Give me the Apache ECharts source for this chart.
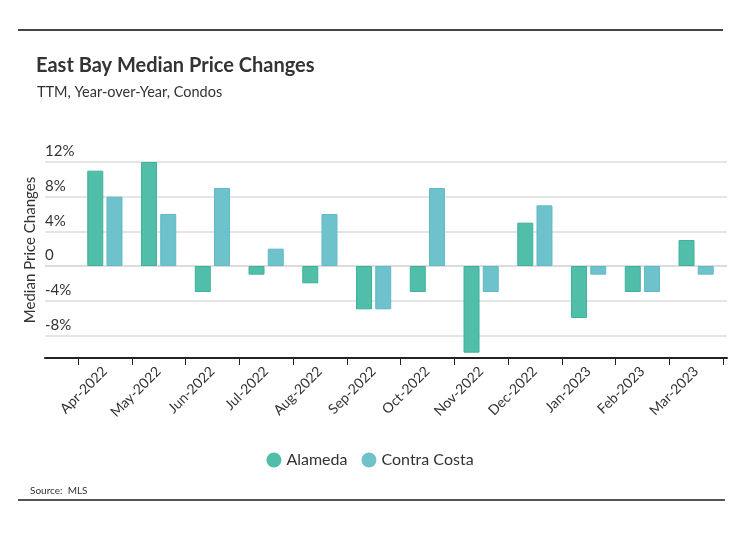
<!DOCTYPE html>
<html>
<head>
<meta charset="utf-8">
<script src="https://cdn.jsdelivr.net/npm/echarts@6/dist/echarts.min.js"></script>
<style>
html,body{margin:0;padding:0;background:#fff;}
#c{width:740px;height:533px;}
</style>
</head>
<body>
<div id="c"></div>
<script>
var categories = ['Apr-2022','May-2022','Jun-2022','Jul-2022','Aug-2022','Sep-2022','Oct-2022','Nov-2022','Dec-2022','Jan-2023','Feb-2023','Mar-2023'];
var alameda = [11, 12, -3, -1, -2, -5, -3, -10, 5, -6, -3, 3];
var contraCosta = [8, 6, 9, 2, 6, -5, 9, -3, 7, -1, -3, -1];
var yTicks = [-12, -8, -4, 0, 4, 8, 12];

var FONT = 'Lato, "Open Sans", sans-serif';
var chart = echarts.init(document.getElementById('c'));
var gridTop = 162, gridBottom = 163;
chart.setOption({
  animation: false,
  textStyle: {fontFamily: FONT},
  title: [
    {text: 'East Bay Median Price Changes', left: 31, top: 51,
     textStyle: {fontFamily: FONT, fontSize: 20, fontWeight: 'bold', color: '#333'}},
    {text: 'TTM, Year-over-Year, Condos', left: 32, top: 80,
     textStyle: {fontFamily: FONT, fontSize: 14.5, fontWeight: 'normal', color: '#333'}},
    {text: 'Source:  MLS', left: 25, top: 481,
     textStyle: {fontFamily: FONT, fontSize: 10, fontWeight: 'normal', color: '#333'}}
  ],
  graphic: [
    {type: 'rect', shape: {x: 18, y: 29, width: 705, height: 2}, style: {fill: '#444'}},
    {type: 'rect', shape: {x: 18, y: 499, width: 707, height: 2}, style: {fill: '#555'}},
    {type: 'text', x: 30, y: 250, rotation: Math.PI / 2,
     style: {text: 'Median Price Changes', fill: '#333', font: '15px ' + FONT, align: 'center', verticalAlign: 'middle'}}
  ],
  legend: {
    data: ['Alameda', 'Contra Costa'],
    left: 'center', top: 447, icon: 'circle', itemWidth: 15, itemHeight: 15, itemGap: 14,
    itemStyle: {borderWidth: 0},
    textStyle: {fontFamily: FONT, fontSize: 16, color: '#333'}
  },
  grid: [
    {left: 45, right: 13, top: gridTop, bottom: gridBottom},
    {left: 78, right: 17, top: gridTop, bottom: gridBottom}
  ],
  xAxis: [
    {gridIndex: 0, type: 'value', min: 0, max: 1, offset: -12,
     axisLine: {show: true, onZero: false, lineStyle: {color: '#222', width: 2}},
     axisTick: {show: false}, axisLabel: {show: false}, splitLine: {show: false}},
    {gridIndex: 1, type: 'category', data: categories, offset: -12,
     axisLine: {show: false, onZero: false},
     axisTick: {show: true, length: 7, lineStyle: {color: '#222'}},
     axisLabel: {rotate: 45, interval: 0, margin: 11, fontFamily: FONT, fontSize: 14, color: '#333'},
     splitLine: {show: false}}
  ],
  yAxis: [
    {gridIndex: 0, type: 'value', min: yTicks[0], max: yTicks[yTicks.length - 1], interval: 4,
     axisLine: {show: false}, axisTick: {show: false},
     axisLabel: {inside: true, margin: 0, verticalAlign: 'bottom', align: 'left', padding: [0, 0, 3, 0],
       fontFamily: FONT, fontSize: 15, color: '#333',
       formatter: function (v) { if (v === yTicks[0]) return ''; return v === 0 ? '0' : v + '%'; }},
     splitLine: {show: true, lineStyle: {color: ['rgba(0,0,0,0)', '#dcdcdc', '#dcdcdc', '#d0d0d0', '#dcdcdc', '#dcdcdc', '#dcdcdc'], width: 1.5}}},
    {gridIndex: 1, type: 'value', min: yTicks[0], max: yTicks[yTicks.length - 1], interval: 4, show: false,
     splitLine: {show: false}}
  ],
  series: [
    {name: 'Alameda', type: 'bar', xAxisIndex: 1, yAxisIndex: 1, data: alameda,
     barWidth: 16, barGap: '20%',
     itemStyle: {color: '#50bea9', borderColor: '#3fb29c', borderWidth: 1}},
    {name: 'Contra Costa', type: 'bar', xAxisIndex: 1, yAxisIndex: 1, data: contraCosta,
     barWidth: 16, barGap: '20%',
     itemStyle: {color: '#6dc2cc', borderColor: '#62bac4', borderWidth: 1}}
  ]
});
</script>
</body>
</html>
